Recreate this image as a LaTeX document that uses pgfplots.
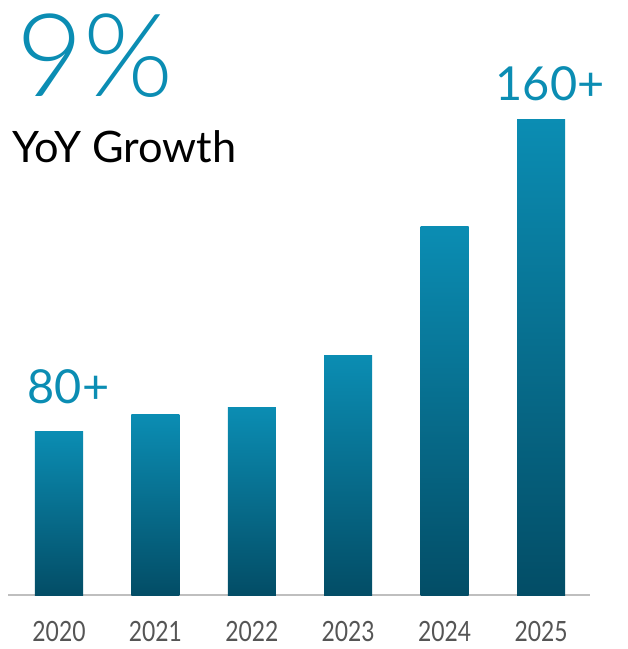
\documentclass[border=0pt]{standalone}
\usepackage{pgfplots}
\pgfplotsset{compat=1.18}
\usepackage{fontspec}
\setmainfont{Lato}
\newfontfamily\tickfont[FakeStretch=0.82]{Lato}
\newfontfamily\thinfont{Lato Light}
\definecolor{teal1}{HTML}{0B8DB3}
\definecolor{teal2}{HTML}{034D66}
\definecolor{labgray}{HTML}{555555}
\begin{document}
\begin{tikzpicture}[x=1bp,y=1bp]
\path[use as bounding box] (0,0) rectangle (628,649);
\begin{axis}[
  at={(8bp,54bp)}, anchor=south west,
  scale only axis, width=582bp, height=595bp,
  xmin=-0.529, xmax=5.508, ymin=38, ymax=190.6,
  axis x line*=bottom, axis y line=none,
  axis line style={draw=black!25, line width=1.5bp},
  xtick={0,1,2,3,4,5},
  xticklabels={2020,2021,2022,2023,2024,2025},
  major tick length=0pt,
  xticklabel style={anchor=base, yshift=-46bp, font=\tickfont\fontsize{28}{30}\selectfont, text=labgray},
  ytick=\empty,
  clip=false,
  gbar/.style={ybar, bar width=48bp, draw=none, shading=axis, top color=teal1, bottom color=teal2, bar shift=0pt},
]
\addplot[gbar] coordinates {(0,80)};
\addplot[gbar] coordinates {(1,84.2)};
\addplot[gbar] coordinates {(2,86.2)};
\addplot[gbar] coordinates {(3,99.5)};
\addplot[gbar] coordinates {(4,132.4)};
\addplot[gbar] coordinates {(5,160)};
\node[anchor=base, text=teal1, font=\fontsize{47}{52}\selectfont, inner sep=0pt] at ([xshift=9.5bp, yshift=28bp]axis cs:0,80) {80+};
\node[anchor=base, text=teal1, font=\fontsize{47}{52}\selectfont, inner sep=0pt] at ([xshift=9bp, yshift=19bp]axis cs:5,160) {160+};
\end{axis}
\node[anchor=base west, inner sep=0pt, text=teal1, font=\thinfont\fontsize{116}{126}\selectfont] at (16,552) {9\%};
\node[anchor=base west, inner sep=0pt, text=black, font=\fontsize{43.5}{48}\selectfont] at (12,486) {YoY Growth};
\end{tikzpicture}
\end{document}
